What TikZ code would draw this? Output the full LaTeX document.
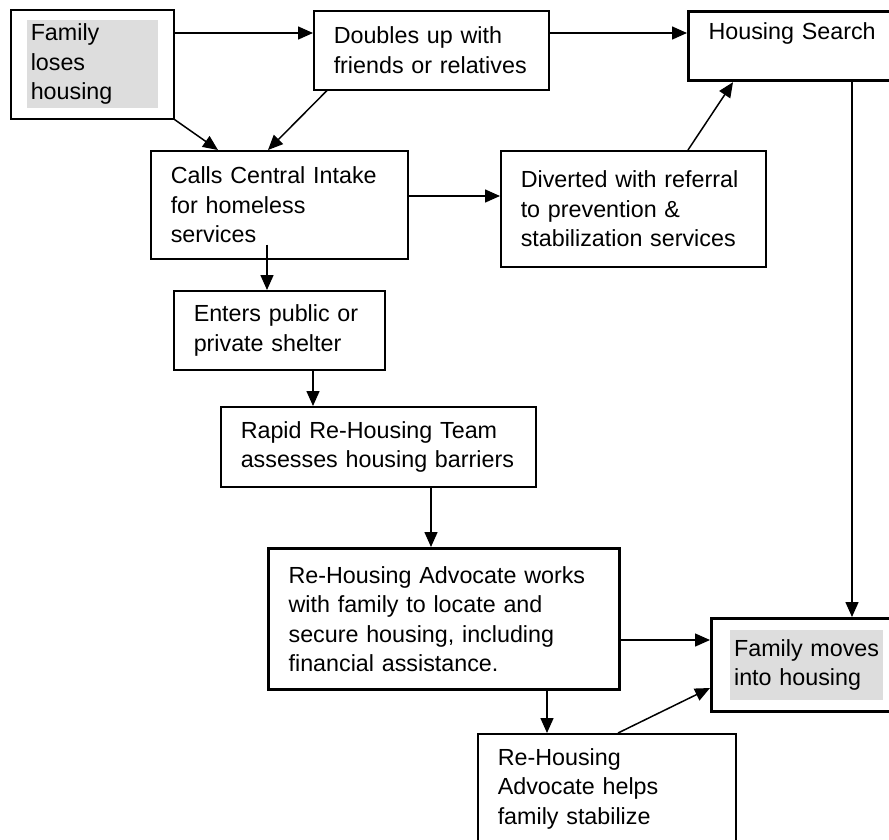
\documentclass[tikz,border=0pt]{standalone}
\usepackage{fontspec}
\setmainfont{Liberation Sans}
\usepackage{xcolor}
\usetikzlibrary{arrows.meta, positioning, calc}
\definecolor{shadegray}{RGB}{221, 221, 221}

\begin{document}
\begin{tikzpicture}[x=1pt, y=-1pt, >={Triangle[length=15pt, width=13pt]},
    box/.style={draw, line width=1.5pt, anchor=north west, align=left, inner xsep=20pt, inner ysep=0pt, font=\fontsize{23.3}{29.5}\selectfont},
    bold box/.style={box, line width=3.2pt},
    shaded/.style={fill=shadegray, align=left, inner xsep=4pt, inner ysep=0pt, font=\fontsize{23.3}{29.5}\selectfont},
    link/.style={->, line width=1.5pt}]
    \path[use as bounding box, clip] (0,0) rectangle (889,839);
    \node[box, minimum width=163pt, minimum height=109pt] (lose) at (10,9) {};
    \node[shaded, text width=123pt, minimum height=88pt] (lose txt) at (lose.center) {Family\\loses\\housing};
    \node[box, text width=195pt, minimum height=79pt] (doubles) at (313,10) {Doubles up with\\friends or relatives};
    \node[bold box, text width=175pt, minimum height=69pt] (search) at (687,10) {Housing Search\\\mbox{}};
    \node[box, text width=217pt, minimum height=108pt] (calls) at (150,150) {Calls Central Intake\\for homeless\\services};
    \node[box, text width=225pt, minimum height=116pt] (diverted) at (500,150) {Diverted with referral\\to prevention \&\\stabilization services};
    \node[box, text width=171pt, minimum height=79pt] (enters) at (173,290) {Enters public or\\private shelter};
    \node[box, text width=275pt, minimum height=80pt] (rapid) at (220,406) {Rapid Re-Housing Team\\assesses housing barriers};
    \node[bold box, text width=311pt, minimum height=141pt] (advocate) at (267,547) {Re-Housing Advocate works\\with family to locate and\\secure housing, including\\financial assistance.};
    \node[bold box, minimum width=190pt, minimum height=93pt] (moves) at (710,617) {};
    \node[shaded, text width=145pt, minimum height=70pt] (moves txt) at (moves.center) {Family moves\\into housing};
    \node[box, text width=218pt, minimum height=110pt] (helps) at (477,733) {Re-Housing\\Advocate helps\\family stabilize};
    \draw[link] ([yshift=-24pt]lose.north east) -- ([yshift=-23pt]doubles.north west);
    \draw[link] ([yshift=-23pt]doubles.north east) -- ([yshift=-23pt]search.north west);
    \draw[link] (lose.south east) -- ([xshift=68pt]calls.north west);
    \draw[link] ([xshift=14pt]doubles.south west) -- ([xshift=118pt]calls.north west);
    \draw[link] ([yshift=-46pt]calls.north east) -- ([yshift=-46pt]diverted.north west);
    \draw[link] ([xshift=188pt]diverted.north west) -- ([xshift=46pt]search.south west);
    \draw[link] ([xshift=165pt]search.south west) -- ([xshift=142pt]moves.north west);
    \draw[link] ([xshift=117pt, yshift=15pt]calls.south west) -- ([xshift=94pt]enters.north west);
    \draw[link] ([xshift=140pt]enters.south west) -- ([xshift=93pt]rapid.north west);
    \draw[link] ([xshift=211pt]rapid.south west) -- ([xshift=164pt]advocate.north west);
    \draw[link] ([yshift=-93pt]advocate.north east) -- ([yshift=-23pt]moves.north west);
    \draw[link] ([xshift=280pt]advocate.south west) -- ([xshift=70pt]helps.north west);
    \draw[link] ([xshift=141pt]helps.north west) -- ([yshift=-71pt]moves.north west);
\end{tikzpicture}
\end{document}
